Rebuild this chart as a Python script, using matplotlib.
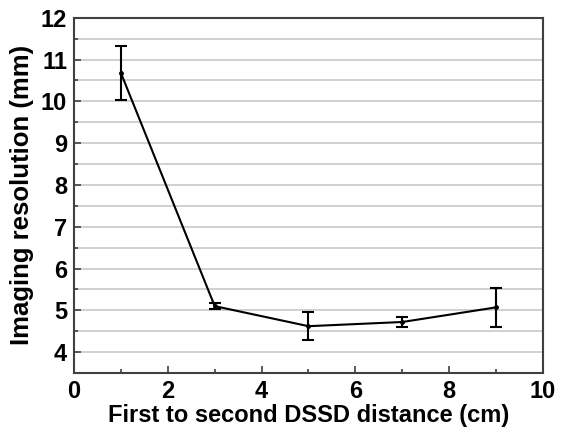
import matplotlib.pyplot as plt
from matplotlib.ticker import MultipleLocator

plt.rcParams['font.family'] = ['Liberation Sans', 'DejaVu Sans']
plt.rcParams['font.weight'] = 'bold'

# DSSD spacing (cm) vs imaging resolution (mm)
distance = [1, 3, 5, 7, 9]
resolution = [10.68, 5.10, 4.62, 4.72, 5.07]
res_err = [0.65, 0.07, 0.34, 0.12, 0.47]

fig = plt.figure(figsize=(5.65, 4.3), dpi=100)
ax = fig.add_axes([0.131, 0.1326, 0.830, 0.826])

ax.errorbar(distance, resolution, yerr=res_err, color='black', lw=1.5,
            marker='o', ms=2.5, capsize=4.5, capthick=1.5, elinewidth=1.5, zorder=3)

ax.set_xlim(0, 10)
ax.set_ylim(3.5, 12)
ax.xaxis.set_major_locator(MultipleLocator(2))
ax.xaxis.set_minor_locator(MultipleLocator(1))
ax.yaxis.set_major_locator(MultipleLocator(1))
ax.yaxis.set_minor_locator(MultipleLocator(0.5))
ax.grid(True, which='both', axis='y', color='#c8c8c8', lw=1.2, zorder=0)
ax.tick_params(which='both', direction='in', color='#404040', labelsize=17)
ax.tick_params(which='major', length=5, width=1.2, pad=5)
ax.tick_params(which='minor', length=3, width=1.2)
for s in ax.spines.values():
    s.set_color('#404040')
    s.set_linewidth(1.5)

ax.set_xlabel('First to second DSSD distance (cm)', fontsize=17, fontweight='bold', labelpad=1)
ax.set_ylabel('Imaging resolution (mm)', fontsize=18.5, fontweight='bold', labelpad=5)

fig.savefig('out.png', dpi=100)
